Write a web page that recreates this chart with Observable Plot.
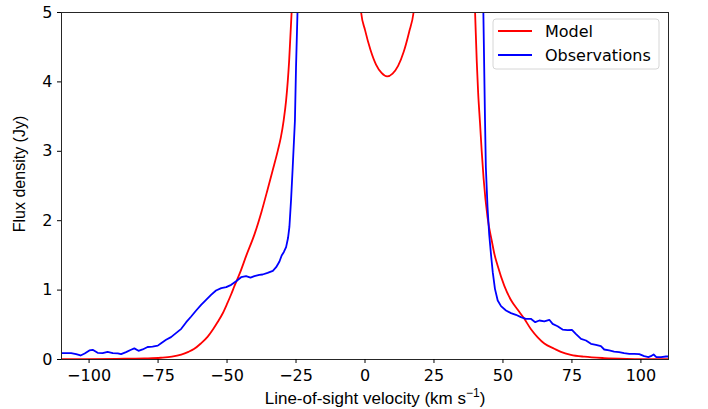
<!DOCTYPE html>
<html>
<head>
<meta charset="utf-8">
<script src="https://cdn.jsdelivr.net/npm/d3@7"></script>
<script src="https://cdn.jsdelivr.net/npm/@observablehq/plot@0.6"></script>
<style>
  html, body { margin: 0; padding: 0; background: white; }
</style>
</head>
<body>
<div id="chart"></div>
<script>
// ---- data ----
const xTicks = [-100, -75, -50, -25, 0, 25, 50, 75, 100];
const yTicks = [0, 1, 2, 3, 4, 5];
const seriesNames = ["Model", "Observations"];
const seriesColors = ["#ff0000", "#0000ff"];

// Model (values above 5 lie off the top of the frame and are clipped)
const vModel = [-110, -100, -90, -80, -74, -70, -66.6, -64, -62, -59.5, -57, -55, -53.4, -51.5, -50, -48.5, -47.3, -45.4, -43, -40, -37.5, -35.3, -33.5, -31.6, -30.5, -29.5, -28.6, -27.5, -26.6, -26, -24, -10, -3, -1.4, 0, 2, 4, 6, 8, 10, 12, 14, 16, 17.6, 19, 28, 38, 39.9, 40.5, 41, 41.7, 42.3, 43, 44.4, 46, 46.9, 48, 50.5, 53, 55.3, 57.7, 60.1, 62.6, 65, 68.6, 71, 74.6, 79.5, 86.7, 95, 110];
const fModel = [0.004, 0.006, 0.01, 0.016, 0.025, 0.04, 0.07, 0.11, 0.15, 0.23, 0.33, 0.44, 0.54, 0.67, 0.8, 0.94, 1.06, 1.24, 1.5, 1.81, 2.13, 2.45, 2.72, 3.01, 3.2, 3.44, 3.73, 4.3, 5.0, 5.6, 8, 12, 6, 5.0, 4.75, 4.46, 4.25, 4.13, 4.08, 4.12, 4.23, 4.43, 4.72, 5.0, 5.6, 12, 7, 5.0, 4.3, 3.85, 3.4, 3.0, 2.6, 2.05, 1.7, 1.52, 1.36, 1.06, 0.85, 0.72, 0.59, 0.44, 0.32, 0.23, 0.155, 0.11, 0.068, 0.04, 0.02, 0.01, 0.004];

// Observations
const vObs = [-110.1, -106.5, -104.7, -103.1, -101.6, -99.9, -98.7, -96.9, -95.1, -93.3, -91.4, -89.6, -88.4, -86.6, -84.8, -83.6, -82.1, -80.6, -78.8, -77, -75.1, -73.9, -72.1, -70.3, -68.4, -66.6, -64.8, -63, -61.2, -59.4, -57.6, -55.8, -54, -52.1, -50.3, -48.5, -46.7, -44.9, -43.1, -41.5, -40.1, -38.3, -37.1, -35.3, -33.4, -32.2, -31, -30.2, -29.4, -28.6, -27.9, -27.4, -26.8, -26.2, -25.4, -25, -24.4, -23.5, -20, 0, 40, 42.0, 42.9, 43.5, 43.8, 44.4, 45, 45.7, 46.3, 47.1, 48.1, 49.3, 51.1, 52.9, 54.7, 56.5, 58.3, 60.1, 61.7, 63.2, 65, 66.8, 68, 69.8, 71.6, 73.4, 75, 76.4, 78.3, 80.1, 81.9, 83.7, 85.5, 86.7, 88.5, 90.3, 92.1, 93.9, 95.8, 97.6, 99.4, 101.2, 102.7, 103.6, 104.6, 105.6, 107.3, 109.1, 110.5];
const fObs = [0.091, 0.091, 0.077, 0.058, 0.087, 0.13, 0.14, 0.096, 0.091, 0.11, 0.091, 0.087, 0.077, 0.106, 0.14, 0.16, 0.125, 0.145, 0.18, 0.187, 0.2, 0.235, 0.284, 0.322, 0.384, 0.442, 0.538, 0.62, 0.706, 0.788, 0.86, 0.932, 0.994, 1.028, 1.042, 1.076, 1.128, 1.186, 1.201, 1.181, 1.201, 1.22, 1.225, 1.249, 1.278, 1.33, 1.412, 1.499, 1.55, 1.62, 1.75, 1.91, 2.3, 2.77, 3.44, 4.21, 5.1, 7, 12, 20, 12, 7, 5.0, 3.44, 2.77, 2.2, 1.81, 1.499, 1.258, 1.018, 0.85, 0.769, 0.706, 0.668, 0.644, 0.61, 0.586, 0.586, 0.538, 0.562, 0.548, 0.572, 0.514, 0.48, 0.432, 0.423, 0.428, 0.37, 0.298, 0.274, 0.226, 0.211, 0.192, 0.144, 0.13, 0.115, 0.106, 0.091, 0.082, 0.082, 0.077, 0.048, 0.034, 0.048, 0.072, 0.034, 0.034, 0.043, 0.043];

const model = vModel.map((v, i) => ({v, f: fModel[i]}));
const obs = vObs.map((v, i) => ({v, f: fObs[i]}));

const svg = Plot.plot({
  width: 708,
  height: 409,
  marginLeft: 61,
  marginRight: 40,
  marginTop: 12,
  marginBottom: 50,
  style: {fontFamily: "DejaVu Sans", fontSize: "16px", color: "black", background: "white", overflow: "visible"},
  x: {domain: [-110, 110]},
  y: {domain: [0, 5]},
  marks: [
    Plot.line(model, {x: "v", y: "f", stroke: seriesColors[0], strokeWidth: 1.8, curve: "monotone-x", clip: true}),
    Plot.line(obs, {x: "v", y: "f", stroke: seriesColors[1], strokeWidth: 1.8, clip: true}),
    Plot.frame({stroke: "#262626", strokeWidth: 1}),
    Plot.axisX({ticks: xTicks, tickSize: 4, tickPadding: 6, label: null, fontSize: 16}),
    Plot.axisY({ticks: yTicks, tickSize: 4, tickPadding: 5, label: null, fontSize: 16, tickFormat: d3.format("d")})
  ]
});

const s = d3.select(svg);

// x axis label
const xl = s.append("text")
  .attr("x", 375).attr("y", 404)
  .attr("text-anchor", "middle")
  .attr("font-family", "Liberation Sans, Arial, sans-serif")
  .attr("font-size", 17)
  .attr("fill", "black");
xl.append("tspan").text("Line-of-sight velocity (km s");
xl.append("tspan").attr("dy", -7).attr("font-size", 12).text("\u22121");
xl.append("tspan").attr("dy", 7).text(")");

// y axis label
s.append("text")
  .attr("transform", "translate(25,174) rotate(-90)")
  .attr("text-anchor", "middle")
  .attr("font-family", "Liberation Sans, Arial, sans-serif")
  .attr("font-size", 16)
  .attr("fill", "black")
  .text("Flux density (Jy)");

// legend
const lg = s.append("g");
lg.append("rect")
  .attr("x", 493).attr("y", 19).attr("width", 166).attr("height", 50)
  .attr("rx", 3).attr("fill", "white").attr("fill-opacity", 0.8)
  .attr("stroke", "#d6d6d6").attr("stroke-width", 1);
seriesNames.forEach((name, i) => {
  const cy = 31 + i * 24;
  lg.append("line")
    .attr("x1", 498).attr("x2", 532).attr("y1", cy).attr("y2", cy)
    .attr("stroke", seriesColors[i]).attr("stroke-width", 1.8);
  lg.append("text")
    .attr("x", 545).attr("y", cy + 6)
    .attr("text-anchor", "start")
    .attr("font-family", "DejaVu Sans").attr("font-size", 16)
    .attr("fill", "black")
    .text(name);
});

document.getElementById("chart").appendChild(svg);
</script>
</body>
</html>
